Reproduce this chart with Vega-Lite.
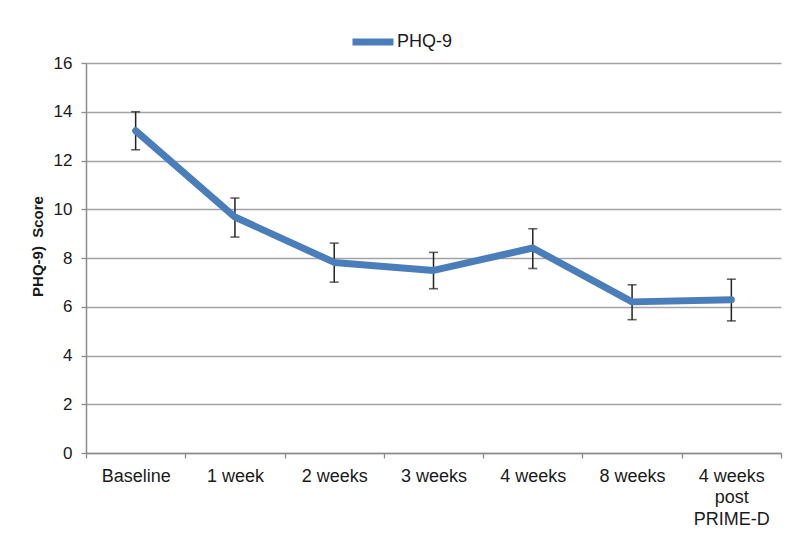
{
  "$schema": "https://vega.github.io/schema/vega-lite/v6.json",
  "width": 695,
  "height": 390,
  "autosize": {"type": "none"},
  "padding": {"left": 86, "top": 63, "right": 19, "bottom": 88},
  "background": "white",
  "config": {
    "font": "Liberation Sans",
    "view": {"stroke": null},
    "axis": {"labelFont": "Liberation Sans", "titleFont": "Liberation Sans"},
    "legend": {"labelFont": "Liberation Sans"}
  },
  "data": {
    "values": [
      {"time": "Baseline", "score": 13.22, "lo": 12.44, "hi": 14.0, "series": "PHQ-9"},
      {"time": "1 week", "score": 9.68, "lo": 8.86, "hi": 10.46, "series": "PHQ-9"},
      {"time": "2 weeks", "score": 7.82, "lo": 7.01, "hi": 8.61, "series": "PHQ-9"},
      {"time": "3 weeks", "score": 7.49, "lo": 6.74, "hi": 8.23, "series": "PHQ-9"},
      {"time": "4 weeks", "score": 8.41, "lo": 7.57, "hi": 9.2, "series": "PHQ-9"},
      {"time": "8 weeks", "score": 6.2, "lo": 5.47, "hi": 6.9, "series": "PHQ-9"},
      {"time": "4 weeks post PRIME-D", "score": 6.29, "lo": 5.42, "hi": 7.13, "series": "PHQ-9"}
    ]
  },
  "encoding": {
    "x": {
      "field": "time",
      "type": "nominal",
      "sort": null,
      "scale": {"type": "band", "paddingInner": 0, "paddingOuter": 0},
      "axis": {
        "title": null,
        "labelAngle": 0,
        "labelFontSize": 18,
        "labelColor": "#1a1a1a",
        "labelLineHeight": 21.5,
        "labelPadding": 9,
        "labelBaseline": "top",
        "tickBand": "extent",
        "tickSize": 5,
        "tickColor": "#8c8c8c",
        "tickWidth": 1.3,
        "domainColor": "#8c8c8c",
        "domainWidth": 1.5,
        "grid": false,
        "labelExpr": "datum.label == '4 weeks post PRIME-D' ? ['4 weeks', 'post', 'PRIME-D'] : datum.label"
      }
    }
  },
  "layer": [
    {
      "mark": {"type": "rule", "color": "#222222", "strokeWidth": 1.5},
      "encoding": {
        "y": {
          "field": "lo",
          "type": "quantitative",
          "scale": {"domain": [0, 16]},
          "axis": {
            "title": "PHQ-9)\u00a0\u00a0Score",
            "titleFontSize": 15,
            "titleFontWeight": "bold",
            "titleColor": "#1a1a1a",
            "titlePadding": 8,
            "titleY": 183,
            "values": [0, 2, 4, 6, 8, 10, 12, 14, 16],
            "labelFontSize": 17,
            "labelColor": "#1a1a1a",
            "labelPadding": 9,
            "tickSize": 5,
            "tickColor": "#8c8c8c",
            "tickWidth": 1.3,
            "domainColor": "#8c8c8c",
            "domainWidth": 1.5,
            "grid": true,
            "gridColor": "#a3a3a3",
            "gridWidth": 1.4
          }
        },
        "y2": {"field": "hi"}
      }
    },
    {
      "mark": {"type": "tick", "color": "#222222", "size": 9, "thickness": 1.6},
      "encoding": {"y": {"field": "lo", "type": "quantitative"}}
    },
    {
      "mark": {"type": "tick", "color": "#222222", "size": 9, "thickness": 1.6},
      "encoding": {"y": {"field": "hi", "type": "quantitative"}}
    },
    {
      "mark": {"type": "line", "strokeWidth": 7, "strokeCap": "round", "strokeJoin": "round"},
      "encoding": {
        "y": {"field": "score", "type": "quantitative"},
        "color": {
          "field": "series",
          "type": "nominal",
          "scale": {"range": ["#4A7EBB"]},
          "legend": {
            "title": null,
            "orient": "none",
            "legendX": 263,
            "legendY": -45,
            "symbolType": "stroke",
            "symbolSize": 1681,
            "symbolStrokeWidth": 7,
            "labelFontSize": 18,
            "labelColor": "#1a1a1a",
            "labelOffset": 0
          }
        }
      }
    }
  ]
}
